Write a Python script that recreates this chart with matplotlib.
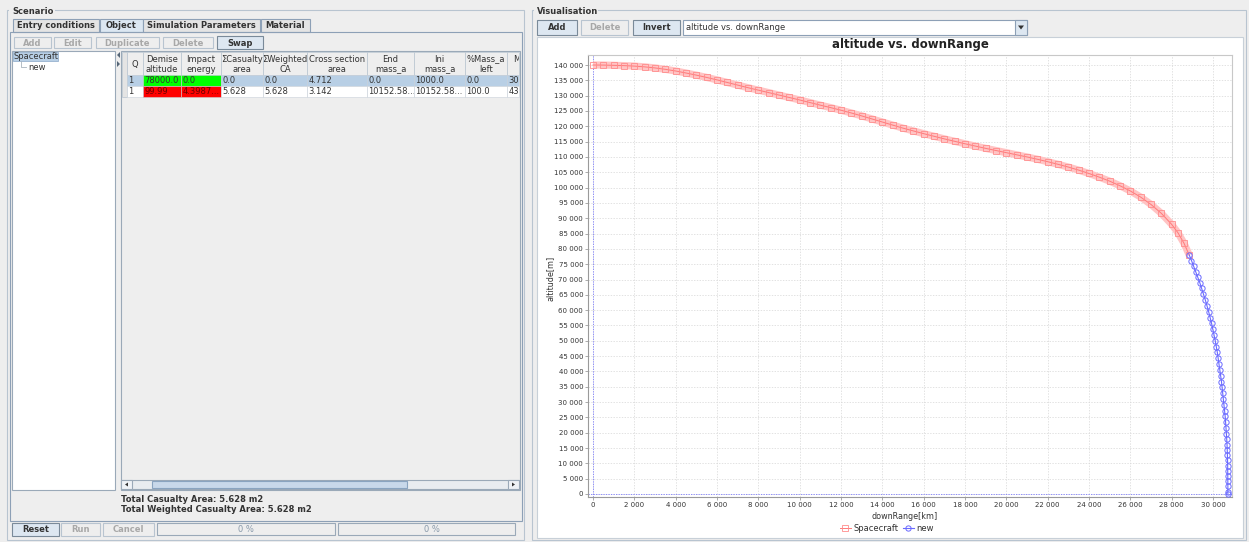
import matplotlib
matplotlib.use("Agg")
import matplotlib.pyplot as plt
from matplotlib.patches import Rectangle, Polygon
from matplotlib.transforms import Bbox, TransformedBbox
from matplotlib.ticker import FuncFormatter, MultipleLocator

W, H = 1249, 542

# trajectory: downRange [km], altitude [m]
sc_range = [0, 500, 1000, 1500, 2000, 2500, 3000, 3500, 4000, 4500, 5000, 5500,
            6000, 6500, 7000, 7500, 8000, 8500, 9000, 9500, 10000, 10500, 11000,
            11500, 12000, 12500, 13000, 13500, 14000, 14500, 15000, 15500, 16000,
            16500, 17000, 17500, 18000, 18500, 19000, 19500, 20000, 20500, 21000,
            21500, 22000, 22500, 23000, 23500, 24000, 24500, 25000, 25500, 26000,
            26500, 27000, 27500, 28000, 28300, 28600, 28850]
sc_alt = [140000, 139980, 139900, 139800, 139650, 139400, 139050, 138600, 138050,
          137400, 136700, 135950, 135150, 134300, 133450, 132600, 131800, 131000,
          130200, 129400, 128600, 127750, 126900, 126100, 125250, 124350, 123400,
          122400, 121400, 120400, 119400, 118500, 117600, 116750, 115900, 115100,
          114300, 113550, 112800, 112100, 111400, 110700, 110000, 109250, 108450,
          107600, 106700, 105700, 104600, 103400, 102100, 100600, 98900, 96900,
          94500, 91600, 88000, 85300, 81800, 78000]

new_range = [28850, 28960, 29060, 29160, 29260, 29360, 29450, 29540, 29630, 29710,
             29790, 29860, 29930, 29990, 30050, 30110, 30160, 30210, 30250, 30290,
             30330, 30370, 30410, 30440, 30470, 30500, 30530, 30560, 30590, 30610,
             30630, 30650, 30665, 30680, 30690, 30698, 30705, 30710, 30713, 30716,
             30718, 30720, 30721, 30721]
new_alt = [78000, 76200, 74400, 72600, 70800, 69000, 67100, 65200, 63300, 61400,
           59500, 57600, 55700, 53800, 51900, 50000, 48100, 46200, 44300, 42400,
           40500, 38600, 36700, 34800, 32900, 31000, 29100, 27200, 25300, 23400,
           21500, 19600, 17800, 16100, 14400, 12700, 11000, 9300, 7600, 5900,
           4200, 2500, 800, 0]

# table content
col_edges = [127, 143, 181, 221, 263, 307, 367, 414, 465, 507, 519]
headers = [("Q", ""), ("Demise", "altitude"), ("Impact", "energy"),
           ("\u03a3Casualty", "area"), ("\u03a3Weighted", "CA"),
           ("Cross section", "area"), ("End", "mass_a"), ("Ini", "mass_a"),
           ("%Mass_a", "left"), ("M", "")]
row1 = ["1", "78000.0", "0.0", "0.0", "0.0", "4.712", "0.0", "1000.0", "0.0", "300"]
row2 = ["1", "99.99", "4.3987...", "5.628", "5.628", "3.142", "10152.58...",
        "10152.58...", "100.0", "430"]

plt.rcParams['font.family'] = ['DejaVu Sans']

fig = plt.figure(figsize=(W / 100, H / 100), dpi=100)
fig.patch.set_facecolor('#eeeeee')

bg = fig.add_axes([0, 0, 1, 1])
bg.set_xlim(0, W)
bg.set_ylim(H, 0)
bg.axis('off')

GUI_FS = 6.0
BORDER = '#a3b8cc'


def box(x0, y0, x1, y1, fc='none', ec=BORDER, lw=0.8, z=1):
    r = Rectangle((x0, y0), x1 - x0, y1 - y0, facecolor=fc, edgecolor=ec, lw=lw, zorder=z)
    bg.add_patch(r)
    return r


def button(x0, y0, x1, y1, label, enabled=True):
    fc = '#dde7f1' if enabled else '#eeeeee'
    ec = '#7a8a99' if enabled else '#b8c4d0'
    box(x0, y0, x1, y1, fc=fc, ec=ec)
    bg.text((x0 + x1) / 2, (y0 + y1) / 2 + 0.5, label, ha='center', va='center',
            fontsize=GUI_FS, fontweight='bold',
            color='#333333' if enabled else '#a8a8a8', zorder=3)


def label(x, y, s, bold=False, ha='left', color='#333333', fs=GUI_FS, clip=None):
    t = bg.text(x, y, s, ha=ha, va='center', fontsize=fs,
                fontweight='bold' if bold else 'normal', color=color, zorder=4)
    if clip is not None:
        t.set_clip_on(True)
        t.set_clip_box(TransformedBbox(Bbox.from_extents(*clip), bg.transData))
    return t


# ---------------- left panel: Scenario ----------------
box(7, 10, 524, 540, ec='#b8c4d0')
bg.add_patch(Rectangle((9, 6), 46, 9, facecolor='#eeeeee', edgecolor='none', zorder=2))
label(12, 11, "Scenario", bold=True)

tabs = [(13, 99, "Entry conditions", False), (100, 143, "Object", True),
        (143, 260, "Simulation Parameters", False), (261, 310, "Material", False)]
for x0, x1, s, sel in tabs:
    box(x0, 19, x1, 32, fc='#dce7f2' if sel else '#e4e4e4', ec='#8da0b6')
    label((x0 + x1) / 2, 26, s, bold=True, ha='center')
box(10, 32, 522, 521, ec='#8da0b6')

button(14, 37, 51, 48, "Add", False)
button(54, 37, 91, 48, "Edit", False)
button(96, 37, 159, 48, "Duplicate", False)
button(163, 37, 213, 48, "Delete", False)
button(217, 36, 263, 49, "Swap", True)

# tree
box(12, 51, 115, 490, fc='white', ec='#9aa9b8')
box(13, 52, 58, 61, fc='#b8cfe5', ec='#8aa8c8', lw=0.5, z=2)
label(14, 56.5, "Spacecraft")
bg.plot([21, 21, 26], [61, 67, 67], color='#aab4be', lw=0.6, zorder=3)
label(28, 67, "new")

# splitter arrows
bg.add_patch(Polygon([[117, 55], [120, 52], [120, 58]], closed=True, fc='#556677', ec='none', zorder=3))
bg.add_patch(Polygon([[117, 61], [120, 64], [117, 67]], closed=True, fc='#556677', ec='none', zorder=3))

# table
box(121, 51, 520, 490, fc='#eeeeee', ec='#9aa9b8')
box(122, 52, 127, 97, fc='#e4e4e4', ec='#b8c4d0', lw=0.5, z=2)
for i in range(len(col_edges) - 1):
    x0, x1 = col_edges[i], col_edges[i + 1]
    box(x0, 52, x1, 75, fc='#eeeeee', ec='#b8c4d0', lw=0.5, z=2)
    clip = (x0, 52, x1, 97)
    h1, h2 = headers[i]
    if h2:
        label((x0 + x1) / 2, 59, h1, ha='center', clip=clip)
        label((x0 + x1) / 2, 69, h2, ha='center', clip=clip)
    else:
        label((x0 + x1) / 2 if i == 0 else x0 + 6, 64 if i == 0 else 59, h1,
              ha='center' if i == 0 else 'left', clip=clip)

    fc1 = '#00ff00' if i in (1, 2) else '#b8cfe5'
    fc2 = '#ff0000' if i in (1, 2) else 'white'
    box(x0, 75, x1, 86, fc=fc1, ec='#c8d0d8', lw=0.4, z=2)
    box(x0, 86, x1, 97, fc=fc2, ec='#c8d0d8', lw=0.4, z=2)
    label(x0 + 1.5, 80.5, row1[i], clip=clip)
    label(x0 + 1.5, 91.5, row2[i], clip=clip,
          color='#6a0000' if i in (1, 2) else '#333333')

# horizontal scrollbar
box(121, 480, 519, 489, fc='#e8ecf0', ec='#9aa9b8', z=2)
box(121, 480, 132, 489, fc='#eef2f6', ec='#9aa9b8', z=3)
box(508, 480, 519, 489, fc='#eef2f6', ec='#9aa9b8', z=3)
box(152, 481, 407, 488, fc='#c8d8ea', ec='#8aa4c0', z=3)
bg.add_patch(Polygon([[125, 484.5], [128, 482.5], [128, 486.5]], closed=True, fc='#333', ec='none', zorder=4))
bg.add_patch(Polygon([[515, 484.5], [512, 482.5], [512, 486.5]], closed=True, fc='#333', ec='none', zorder=4))

label(121, 499, "Total Casualty Area: 5.628 m2", bold=True)
label(121, 509, "Total Weighted Casualty Area: 5.628 m2", bold=True)

button(12, 523, 59, 536, "Reset", True)
button(61, 523, 100, 536, "Run", False)
button(103, 523, 154, 536, "Cancel", False)
box(157, 523, 335, 535, fc='#eeeeee', ec='#9aa9b8')
label(246, 529, "0 %", ha='center', color='#8899aa')
box(338, 523, 515, 535, fc='#eeeeee', ec='#9aa9b8')
label(432, 529, "0 %", ha='center', color='#8899aa')

# ---------------- right panel: Visualisation ----------------
box(532, 10, 1246, 540, ec='#b8c4d0')
bg.add_patch(Rectangle((534, 6), 64, 9, facecolor='#eeeeee', edgecolor='none', zorder=2))
label(537, 12, "Visualisation", bold=True)

button(537, 20, 577, 35, "Add", True)
button(581, 20, 628, 35, "Delete", False)
button(633, 20, 680, 35, "Invert", True)
box(683, 20, 1027, 35, fc='white', ec='#8da0b6')
box(1015, 20, 1027, 35, fc='#dde7f1', ec='#8da0b6', z=2)
bg.add_patch(Polygon([[1018, 25.5], [1024, 25.5], [1021, 29.5]], closed=True, fc='#333', ec='none', zorder=3))
label(686, 27.5, "altitude vs. downRange")

box(537, 37, 1243, 538, fc='white', ec='#c8d0d8')

# ---------------- chart ----------------
ax = fig.add_axes([588 / W, 1 - 497 / H, (1232 - 588) / W, (497 - 55) / H])
ax.set_facecolor('white')
ax.set_xlim(-240, 30920)
ax.set_ylim(-980, 143270)

ax.xaxis.set_major_locator(MultipleLocator(2000))
ax.yaxis.set_major_locator(MultipleLocator(5000))
fmt = FuncFormatter(lambda v, p: f"{int(v):,}".replace(",", " "))
ax.xaxis.set_major_formatter(fmt)
ax.yaxis.set_major_formatter(fmt)
ax.tick_params(labelsize=5, length=2, width=0.5, color='#888888', labelcolor='#333333', pad=1.5)

ax.grid(True, color='#d6d6d6', lw=0.5, ls=(0, (2, 2)))
ax.set_axisbelow(True)
for s in ax.spines.values():
    s.set_color('#c8c8c8')
    s.set_linewidth(0.8)
ax.spines['left'].set_color('#9a9a9a')
ax.spines['bottom'].set_color('#9a9a9a')

ax.axvline(0, color='#7b7bff', lw=0.6, ls=(0, (1.5, 1.5)), zorder=1)
ax.axhline(0, color='#7b7bff', lw=0.6, ls=(0, (1.5, 1.5)), zorder=1)

ax.plot(sc_range, sc_alt, color='#ffc4c4', lw=5.2, solid_capstyle='butt', zorder=2)
ax.plot(sc_range, sc_alt, color='#ff7a7a', lw=0.7, marker='s', ms=4.2,
        mfc='none', mec='#ff8c8c', mew=0.6, zorder=3, label='Spacecraft')
ax.plot(new_range, new_alt, color='#6a6aff', lw=0.8, marker='o', ms=3.8,
        mfc='none', mec='#6a6aff', mew=0.7, zorder=3, label='new')

ax.set_title("altitude vs. downRange", fontsize=8.5, fontweight='bold', color='#222222', pad=5)
ax.set_xlabel("downRange[km]", fontsize=5.8, color='#333333')
ax.set_ylabel("altitude[m]", fontsize=5.8, color='#333333')
ax.xaxis.set_label_coords(0.492, -0.034)
ax.yaxis.set_label_coords(-0.052, 0.495)

ax.legend(loc='center', bbox_to_anchor=(0.464, -0.072), ncol=2, frameon=False,
          fontsize=6, handlelength=1.3, handletextpad=0.3, columnspacing=0.6,
          labelcolor='#333333')

fig.savefig('out.png', dpi=100)
